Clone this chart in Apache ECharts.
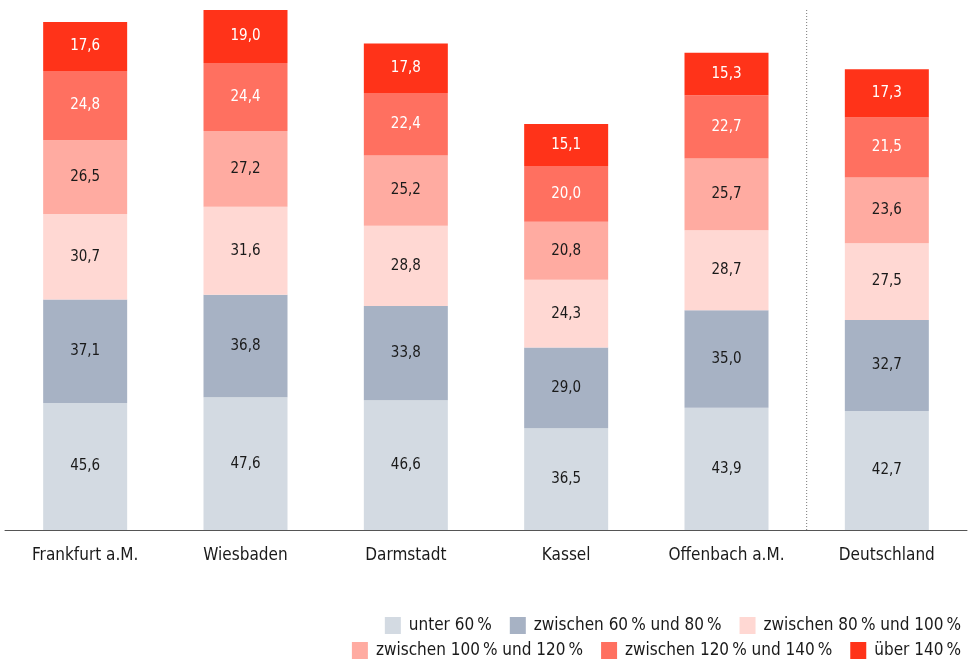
<!DOCTYPE html>
<html>
<head>
<meta charset="utf-8">
<script src="https://cdn.jsdelivr.net/npm/echarts@6/dist/echarts.min.js"></script>
<style>
  html, body { margin: 0; padding: 0; background: #fff; }
  #chart { width: 974px; height: 660px; }
</style>
</head>
<body>
<div id="chart"></div>
<script>
// Kategorien und Werte (Anteile je Einkommensklasse)
var cities = ['Frankfurt a.M.', 'Wiesbaden', 'Darmstadt', 'Kassel', 'Offenbach a.M.', 'Deutschland'];
var seriesNames = [
  'unter 60\u2009%',
  'zwischen 60\u2009% und 80\u2009%',
  'zwischen 80\u2009% und 100\u2009%',
  'zwischen 100\u2009% und 120\u2009%',
  'zwischen 120\u2009% und 140\u2009%',
  'über 140\u2009%'
];
var unter60 = [45.6, 47.6, 46.6, 36.5, 43.9, 42.7];
var z60bis80 = [37.1, 36.8, 33.8, 29.0, 35.0, 32.7];
var z80bis100 = [30.7, 31.6, 28.8, 24.3, 28.7, 27.5];
var z100bis120 = [26.5, 27.2, 25.2, 20.8, 25.7, 23.6];
var z120bis140 = [24.8, 24.4, 22.4, 20.0, 22.7, 21.5];
var ueber140 = [17.6, 19.0, 17.8, 15.1, 15.3, 17.3];
// Trennlinie vor "Deutschland" (Grenze bei Kategorie 5)
var separatorAt = 5;
var yMax = 186.6;

var allData = [unter60, z60bis80, z80bis100, z100bis120, z120bis140, ueber140];
var colors = ['#d3dae2', '#a7b2c4', '#ffd8d3', '#ffaba1', '#ff7060', '#ff3319'];
var labelColors = ['#1a1a1a', '#1a1a1a', '#1a1a1a', '#1a1a1a', '#ffffff', '#ffffff'];
var font = '"Liberation Sans Narrow", "DejaVu Sans Condensed", "Roboto", sans-serif';

var myChart = echarts.init(document.getElementById('chart'));

var series = [];
for (var i = 0; i < allData.length; i++) {
  series.push({
    name: seriesNames[i],
    type: 'bar',
    stack: 'total',
    barWidth: 84,
    data: allData[i],
    itemStyle: { color: colors[i] },
    label: {
      show: true,
      position: 'inside',
      color: labelColors[i],
      fontFamily: font,
      fontSize: 15,
      formatter: function (p) { return p.value.toFixed(1).replace('.', ','); }
    },
    emphasis: { disabled: true }
  });
}

// gepunktete Trennlinie über eine zweite, unsichtbare Werteachse
series.push({
  type: 'line',
  xAxisIndex: 1,
  data: [[separatorAt, 0], [separatorAt, yMax]],
  symbol: 'none',
  silent: true,
  lineStyle: { color: '#777', type: [1, 2], width: 1 },
  z: 1
});

var legendCommon = {
  right: 8,
  itemWidth: 16,
  itemHeight: 17,
  itemGap: 18,
  icon: 'rect',
  textStyle: { fontFamily: font, fontSize: 17, color: '#1a1a1a', padding: [0, 0, 0, 3] }
};

var option = {
  animation: false,
  grid: { left: 5, right: 7, top: 10, bottom: 130 },
  legend: [
    Object.assign({ top: 612, data: seriesNames.slice(0, 3) }, legendCommon),
    Object.assign({ top: 637, data: seriesNames.slice(3, 6) }, legendCommon)
  ],
  xAxis: [{
    type: 'category',
    data: cities,
    axisLine: { lineStyle: { color: '#555', width: 1 } },
    axisTick: { show: false },
    axisLabel: { fontFamily: font, fontSize: 17, color: '#1a1a1a', margin: 17 },
    splitLine: { show: false }
  }, {
    type: 'value',
    min: 0,
    max: cities.length,
    show: false
  }],
  yAxis: {
    type: 'value',
    min: 0,
    max: yMax,
    show: false
  },
  series: series
};

myChart.setOption(option);
</script>
</body>
</html>
